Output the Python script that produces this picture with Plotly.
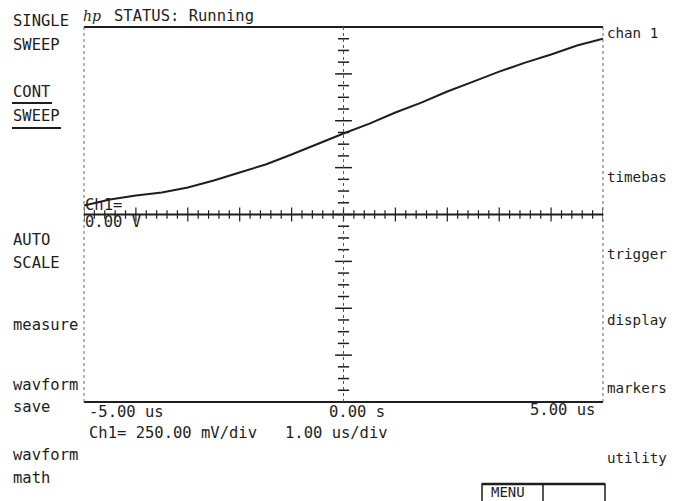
import numpy as np
import plotly.graph_objects as go

# ---- data ----
time_us = [-5.0, -4.5, -4.0, -3.5, -3.0, -2.5, -2.0, -1.5, -1.0, -0.5, 0.0,
           0.5, 1.0, 1.5, 2.0, 2.5, 3.0, 3.5, 4.0, 4.5, 5.0]
volts = [0.048, 0.080, 0.101, 0.117, 0.144, 0.181, 0.224, 0.267, 0.320, 0.378, 0.432,
         0.485, 0.544, 0.597, 0.656, 0.709, 0.762, 0.810, 0.853, 0.901, 0.938]

x_range = [-5.0, 5.0]       # 1.00 us/div, 10 div
y_range = [-1.0, 1.0]       # 250 mV/div, 8 div
x_minor = 0.2
y_minor = 0.0625

left_labels = [("SINGLE", 21), ("SWEEP", 45), ("CONT", 92), ("SWEEP", 116),
               ("AUTO", 240), ("SCALE", 263), ("measure", 325),
               ("wavform", 385), ("save", 407), ("wavform", 455), ("math", 478)]
right_labels = [("chan 1", 33), ("timebas", 177), ("trigger", 254),
                ("display", 320), ("markers", 388), ("utility", 458)]

OFF = 8                      # page body margin
W, H = 675 - OFF, 501 - OFF
L, R, T, B = 84, 603, 27, 402
FONT = "DejaVu Sans Mono"
FS = 15.5
FS_RIGHT = 14.2
INK = "#1e1e1e"


def px(x):
    return (x - L) / (R - L)


def py(y):
    return (B - y) / (B - T)


fig = go.Figure()

# trace
fig.add_trace(go.Scatter(x=time_us, y=volts, mode="lines",
                         line=dict(color=INK, width=2), hoverinfo="skip"))

# ticks along vertical centre line
yt = np.round(np.arange(y_range[0], y_range[1] + 1e-9, y_minor), 4)
is_major_y = np.isclose(np.mod(yt, 0.25), 0) | np.isclose(np.mod(yt, 0.25), 0.25)
ymaj = yt[is_major_y]
ymin = yt[~is_major_y]
fig.add_trace(go.Scatter(x=np.zeros(len(ymin)), y=ymin, mode="markers",
                         marker=dict(symbol="line-ew", size=8, line=dict(color=INK, width=1.5)),
                         hoverinfo="skip"))
fig.add_trace(go.Scatter(x=np.zeros(len(ymaj)), y=ymaj, mode="markers",
                         marker=dict(symbol="line-ew", size=12, line=dict(color=INK, width=1.5)),
                         hoverinfo="skip"))

# ticks along horizontal centre line
xt = np.round(np.arange(x_range[0], x_range[1] + 1e-9, x_minor), 4)
is_major_x = np.isclose(xt, np.round(xt))
xmaj = xt[is_major_x]
xmin = xt[~is_major_x]
fig.add_trace(go.Scatter(x=xmin, y=np.zeros(len(xmin)), mode="markers",
                         marker=dict(symbol="line-ns", size=6, line=dict(color=INK, width=1.2)),
                         hoverinfo="skip"))
fig.add_trace(go.Scatter(x=xmaj, y=np.zeros(len(xmaj)), mode="markers",
                         marker=dict(symbol="line-ns", size=10, line=dict(color=INK, width=1.2)),
                         hoverinfo="skip"))

shapes = []
# frame
shapes.append(dict(type="line", xref="paper", yref="paper", x0=0, x1=1, y0=1, y1=1,
                   line=dict(color=INK, width=2.2)))
shapes.append(dict(type="line", xref="paper", yref="paper", x0=0, x1=1, y0=0, y1=0,
                   line=dict(color=INK, width=2)))
shapes.append(dict(type="line", xref="paper", yref="paper", x0=0, x1=0, y0=0, y1=1,
                   line=dict(color="#666", width=1, dash="dot")))
shapes.append(dict(type="line", xref="paper", yref="paper", x0=1, x1=1, y0=0, y1=1,
                   line=dict(color="#666", width=1, dash="dot")))
# centre lines
shapes.append(dict(type="line", xref="x", yref="y", x0=x_range[0], x1=x_range[1], y0=0, y1=0,
                   line=dict(color=INK, width=1.8)))
shapes.append(dict(type="line", xref="x", yref="y", x0=0, x1=0, y0=y_range[0], y1=y_range[1],
                   line=dict(color="#555", width=1, dash="dot")))
# underlines for CONT SWEEP
shapes.append(dict(type="line", xref="paper", yref="paper", x0=px(12), x1=px(52), y0=py(103), y1=py(103),
                   line=dict(color=INK, width=2)))
shapes.append(dict(type="line", xref="paper", yref="paper", x0=px(12), x1=px(61), y0=py(128), y1=py(128),
                   line=dict(color=INK, width=2)))
# MENU box
shapes.append(dict(type="rect", xref="paper", yref="paper", x0=px(482), x1=px(605), y0=py(505), y1=py(484),
                   line=dict(color=INK, width=1.5)))
shapes.append(dict(type="line", xref="paper", yref="paper", x0=px(482), x1=px(605), y0=py(484), y1=py(484),
                   line=dict(color=INK, width=2.5)))
shapes.append(dict(type="line", xref="paper", yref="paper", x0=px(543), x1=px(543), y0=py(505), y1=py(484),
                   line=dict(color=INK, width=1.5)))

ann = []


def text(s, x, y, anchor="left", size=FS, family=FONT):
    ann.append(dict(text=s, x=px(x), y=py(y), xref="paper", yref="paper",
                    xanchor=anchor, yanchor="middle", showarrow=False,
                    font=dict(family=family, size=size, color=INK)))


for s, y in left_labels:
    text(s, 11, y)
for s, y in right_labels:
    text(s, 605, y, size=FS_RIGHT)

text("<i>hp</i>", 81, 16, family="DejaVu Serif", size=14)
text("STATUS: Running", 112, 16)
text("Ch1=", 83, 205)
text("0.00 V", 83, 222)
text("-5.00 us", 87, 412)
text("0.00 s", 327, 412)
text("5.00 us", 528, 410)
text("Ch1= 250.00 mV/div   1.00 us/div", 87, 433)
text("MENU", 489, 492, size=14)

fig.update_layout(
    width=W, height=H,
    margin=dict(l=L - OFF, r=W - (R - OFF), t=T - OFF, b=H - (B - OFF)),
    paper_bgcolor="white", plot_bgcolor="white",
    showlegend=False,
    xaxis=dict(range=x_range, visible=False, fixedrange=True),
    yaxis=dict(range=y_range, visible=False, fixedrange=True),
    shapes=shapes, annotations=ann,
)

fig.write_html("out.html")
